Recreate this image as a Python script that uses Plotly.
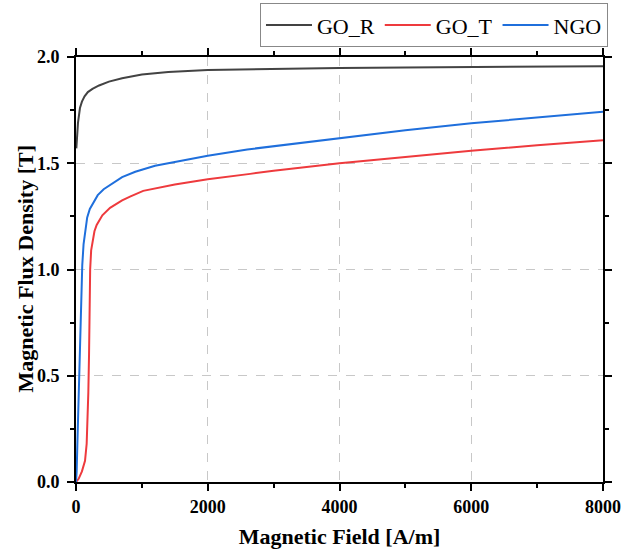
import plotly.graph_objects as go

# B-H magnetisation curves
go_r_h = [5, 15, 30, 60, 90, 130, 180, 250, 350, 500, 700, 1000, 1400, 2000, 2644, 4000, 5000, 6000, 7000, 8000]
go_r_b = [1.57, 1.63, 1.69, 1.76, 1.79, 1.815, 1.835, 1.85, 1.866, 1.884, 1.90, 1.918, 1.93, 1.939, 1.943, 1.948, 1.951, 1.953, 1.955, 1.957]

go_t_h = [0, 40, 90, 137, 162, 177, 187, 198, 203, 215, 230, 253, 280, 314, 400, 517, 700, 820, 1020, 1500, 2000, 2644, 3000, 4000, 5000, 6000, 7000, 8000]
go_t_b = [0, 0.015, 0.05, 0.10, 0.18, 0.29, 0.42, 0.60, 0.90, 1.00, 1.09, 1.14, 1.18, 1.21, 1.255, 1.29, 1.325, 1.343, 1.37, 1.40, 1.425, 1.45, 1.465, 1.50, 1.53, 1.559, 1.585, 1.608]

ngo_h = [0, 10, 20, 35, 50, 65, 80, 95, 115, 140, 170, 210, 260, 330, 420, 550, 700, 900, 1200, 1600, 2000, 2600, 3000, 4000, 5000, 6000, 7000, 8000]
ngo_b = [0, 0.05, 0.17, 0.33, 0.52, 0.75, 0.92, 1.02, 1.12, 1.19, 1.245, 1.285, 1.315, 1.35, 1.378, 1.405, 1.435, 1.46, 1.488, 1.512, 1.535, 1.565, 1.58, 1.62, 1.655, 1.688, 1.715, 1.742]

series = [
    ("GO_R", go_r_h, go_r_b, "#434343"),
    ("GO_T", go_t_h, go_t_b, "#ee3a3d"),
    ("NGO", ngo_h, ngo_b, "#1f6fdc"),
]

SERIF = "Liberation Serif"
TITLE_FONT = dict(family=SERIF, size=22, color="black", weight="bold")

fig = go.Figure()
for name, h, b, color in series:
    fig.add_trace(go.Scatter(x=h, y=b, mode="lines", name=name,
                             line=dict(color=color, width=2)))

axis_common = dict(
    showline=True, linecolor="black", linewidth=2, mirror="allticks",
    ticks="outside", ticklen=7, tickwidth=1.5, tickcolor="black",
    showgrid=True, gridcolor="#c8c8c8", griddash="dash", gridwidth=1,
    zeroline=False, automargin=False,
    tickfont=dict(family=SERIF, size=18, color="black", weight="bold"),
)

fig.update_xaxes(
    range=[0, 8000], dtick=2000, tick0=0, ticklabelstandoff=0,
    minor=dict(dtick=1000, ticks="outside", ticklen=4, tickcolor="black", showgrid=False),
    title=dict(text="Magnetic Field [A/m]", font=TITLE_FONT, standoff=18),
    **axis_common,
)
fig.update_yaxes(
    range=[0, 2.0], dtick=0.5, tick0=0, tickformat=".1f", ticklabelstandoff=4,
    minor=dict(dtick=0.25, ticks="outside", ticklen=4, tickcolor="black", showgrid=False),
    **axis_common,
)

# y-axis title placed as rotated text left of the tick labels
fig.add_annotation(
    text="Magnetic Flux Density [T]", font=TITLE_FONT, textangle=-90,
    xref="paper", yref="paper", x=0, y=0.5, xanchor="center", yanchor="middle",
    xshift=-51, showarrow=False,
)

fig.update_layout(
    width=632, height=549,
    margin=dict(l=76, r=29, t=57, b=67, autoexpand=False),
    plot_bgcolor="white", paper_bgcolor="white",
    legend=dict(
        orientation="h", xref="container", yref="container",
        x=0.962, xanchor="right", y=0.994, yanchor="top",
        font=dict(family=SERIF, size=22, color="black"),
        bordercolor="#888888", borderwidth=1, bgcolor="white",
        itemwidth=46, tracegroupgap=0,
    ),
    showlegend=True,
)

fig.write_html("out.html")
